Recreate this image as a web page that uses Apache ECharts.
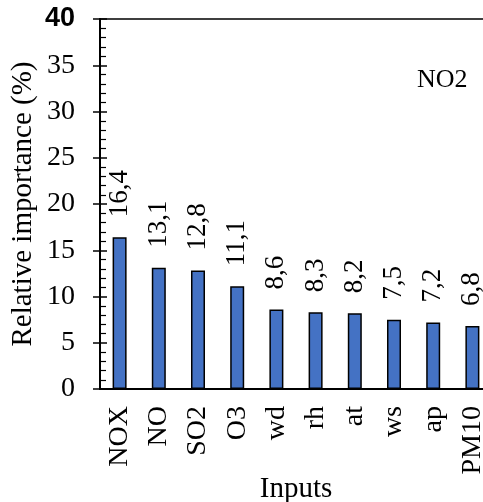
<!DOCTYPE html>
<html>
<head>
<meta charset="utf-8">
<script src="https://cdn.jsdelivr.net/npm/echarts@6/dist/echarts.min.js"></script>
<style>
  html, body { margin: 0; padding: 0; background: #fff; }
  #chart { width: 483px; height: 502px; }
</style>
</head>
<body>
<div id="chart"></div>
<script>
// Relative importance of each input for NO2
const categories = ['NOX', 'NO', 'SO2', 'O3', 'wd', 'rh', 'at', 'ws', 'ap', 'PM10'];
const importance = [16.4, 13.1, 12.8, 11.1, 8.6, 8.3, 8.2, 7.5, 7.2, 6.8];
const yTicks = [0, 5, 10, 15, 20, 25, 30, 35, 40];

const serif = '"Liberation Serif", "Times New Roman", serif';
const yMin = yTicks[0], yMax = yTicks[yTicks.length - 1], yStep = yTicks[1] - yTicks[0];

const chart = echarts.init(document.getElementById('chart'), null, { renderer: 'canvas' });

const baseY = {
  type: 'value', min: yMin, max: yMax, interval: yStep,
  splitLine: { show: false }
};

chart.setOption({
  animation: false,
  backgroundColor: '#fff',
  grid: {
    left: 100, top: 19, width: 392, height: 370,
    outerBoundsMode: 'none',
    containLabel: false,
    show: true, borderColor: '#000', borderWidth: 1.5, backgroundColor: 'transparent'
  },
  title: {
    text: 'NO2', left: 412, top: 62,
    textStyle: { fontFamily: serif, fontSize: 26, fontWeight: 'normal', color: '#000' }
  },
  xAxis: {
    type: 'category',
    data: categories,
    name: 'Inputs',
    nameLocation: 'middle',
    nameGap: 86,
    nameMoveOverlap: false,
    nameTextStyle: { fontFamily: serif, fontSize: 29, color: '#000' },
    axisLine: { lineStyle: { color: '#000', width: 2 } },
    axisTick: { show: false },
    axisLabel: {
      rotate: 90, margin: 17, interval: 0,
      fontFamily: serif, fontSize: 28, color: '#000'
    }
  },
  yAxis: [
    Object.assign({}, baseY, {
      name: 'Relative importance (%)',
      nameLocation: 'middle',
      nameGap: 62,
      nameMoveOverlap: false,
      nameTextStyle: { fontFamily: serif, fontSize: 29, color: '#000' },
      axisLine: { show: true, lineStyle: { color: '#000', width: 2 } },
      axisTick: { show: true, inside: true, length: 7, lineStyle: { color: '#000', width: 1.5 } },
      minorTick: { show: true, splitNumber: 5, length: 6, lineStyle: { color: '#000', width: 1.2 } },
      axisLabel: {
        margin: 25, fontFamily: serif, fontSize: 28, color: '#000',
        formatter: v => v === yMax ? '' : String(v)
      }
    }),
    // outward half of the major ticks, plus the bold top label
    Object.assign({}, baseY, {
      position: 'left',
      axisLine: { show: false },
      axisTick: { show: true, inside: false, length: 7, lineStyle: { color: '#000', width: 1.5 } },
      axisLabel: {
        margin: 25, fontFamily: '"Liberation Sans", Arial, sans-serif', fontWeight: 'bold',
        fontSize: 27, color: '#000',
        formatter: v => v === yMax ? String(v) : ''
      }
    })
  ],
  series: [{
    type: 'bar',
    data: importance,
    barWidth: 14,
    itemStyle: { color: '#4472C4', borderColor: '#000', borderWidth: 1.5 },
    label: {
      show: true,
      position: 'top',
      rotate: 90,
      align: 'left',
      verticalAlign: 'middle',
      distance: 20,
      fontFamily: serif,
      fontSize: 27,
      color: '#000',
      formatter: p => String(p.value).replace('.', ',')
    }
  }]
});
</script>
</body>
</html>
